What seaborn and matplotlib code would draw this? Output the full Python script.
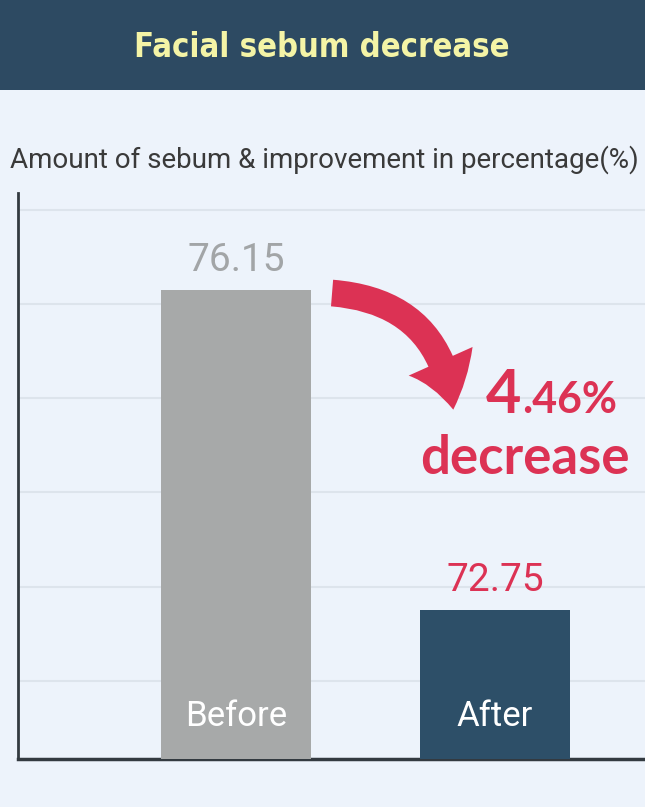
import matplotlib
matplotlib.use("Agg")
import matplotlib.pyplot as plt
from matplotlib.patches import Rectangle, FancyArrowPatch
import seaborn as sns
import pandas as pd

# data
stages = ["Before", "After"]
sebum = [76.15, 72.75]
decrease_pct = "4.46%"
bar_colors = {"Before": "#a7a9a9", "After": "#2d4f68"}

BG = "#edf3fb"
NAVY = "#2d4a62"
RED = "#dc3254"

sns.set_theme(style="white")
plt.rcParams["font.family"] = ["Roboto", "DejaVu Sans"]

W, H = 645, 807
fig = plt.figure(figsize=(W / 100, H / 100), dpi=100, facecolor=BG)

# header band
fig.patches.append(Rectangle((0, 1 - 90 / H), 1, 90 / H, transform=fig.transFigure,
                             facecolor=NAVY, edgecolor="none", zorder=0))
fig.text(322 / W, 1 - 57 / H, "Facial sebum decrease", ha="center", va="baseline",
         color="#f4f4a6", fontsize=23.5, fontweight="bold", fontstretch="condensed",
         family=["DejaVu Sans"])
fig.text(10 / W, 1 - 160 / H, "Amount of sebum & improvement in percentage(%)",
         ha="left", va="center", color="#3a3a3a", fontsize=20)

# axes: extends past the right edge like the cropped original
left, right, top, bottom = 18, 754, 193, 759
ax = fig.add_axes([left / W, 1 - bottom / H, (right - left) / W, (bottom - top) / H])
ax.set_facecolor(BG)

df = pd.DataFrame({"stage": stages, "sebum": sebum})
sns.barplot(data=df, x="stage", y="sebum", hue="stage", palette=bar_colors,
            width=0.58, saturation=1, legend=False, ax=ax, zorder=3,
            linewidth=0, edgecolor="none")

ax.set_xlim(-0.842, 2.0)
ax.set_ylim(71.17, 77.18)
ax.set_yticks([72, 73, 74, 75, 76, 77])
ax.yaxis.grid(True, color="#dde4ec", lw=1.5, zorder=0)
ax.set_axisbelow(True)
ax.tick_params(left=False, bottom=False, labelleft=False, labelbottom=False)
ax.set_xlabel("")
ax.set_ylabel("")
for s in ["top", "right"]:
    ax.spines[s].set_visible(False)
ax.spines["left"].set_color("#333a40")
ax.spines["left"].set_linewidth(2)
ax.spines["bottom"].set_color("#333a40")
ax.spines["bottom"].set_linewidth(2.5)

# value labels and names inside bars
label_colors = ["#a2a5a7", RED]
for i, (name, v) in enumerate(zip(stages, sebum)):
    ax.text(i, v + 0.12, f"{v:.2f}", ha="center", va="bottom",
            color=label_colors[i], fontsize=28)
    ax.text(i, 71.17 + 0.45, name, ha="center", va="center",
            color="white", fontsize=25)

# curved arrow from the Before bar down towards the After bar
arrow = FancyArrowPatch((0.36, 76.12), (0.84, 74.85),
                        connectionstyle="arc3,rad=-0.42",
                        arrowstyle="simple,head_width=4.2,head_length=3.0,tail_width=1.6",
                        color=RED, lw=0, zorder=5, mutation_scale=12)
ax.add_patch(arrow)

big = dict(color=RED, fontweight="bold", family=["Lato", "DejaVu Sans"],
           ha="left", va="baseline")
fig.text(486 / W, 1 - 413 / H, decrease_pct[0], fontsize=44, **big)
fig.text(522 / W, 1 - 413 / H, decrease_pct[1:], fontsize=31, **big)
fig.text(420 / W, 1 - 474 / H, "decrease", fontsize=38, **big)

fig.savefig("out.png", dpi=100, facecolor=BG)
